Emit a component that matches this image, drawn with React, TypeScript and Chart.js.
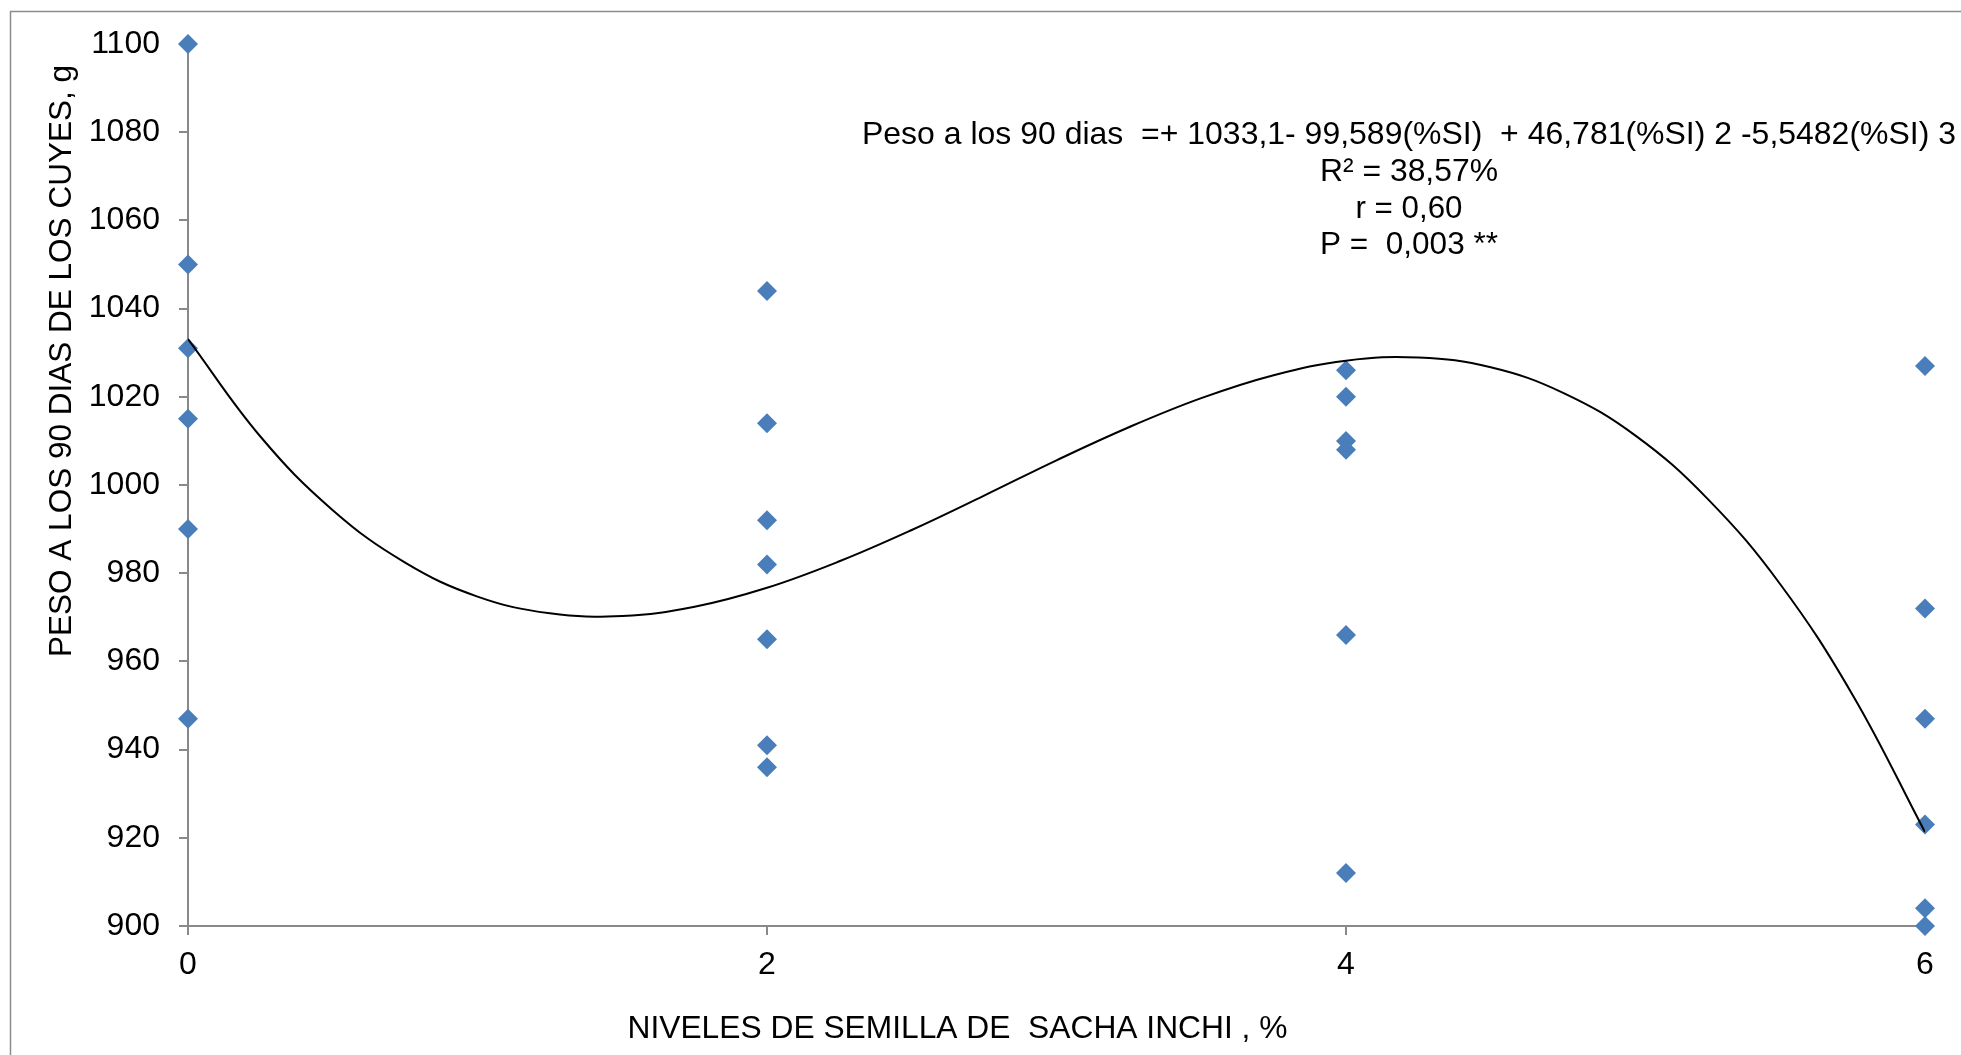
import React, { useEffect, useRef } from 'react';
import { Chart, registerables } from 'chart.js';

Chart.register(...registerables);

// ---- data ----
const LEVEL_0 = 0;
const LEVEL_2 = 2;
const LEVEL_4 = 4;
const LEVEL_6 = 6;
const PESO_0 = [1100, 1050, 1031, 1015, 990, 947];
const PESO_2 = [1044, 1014, 992, 982, 965, 941, 936];
const PESO_4 = [1026, 1020, 1010, 1008, 966, 912];
const PESO_6 = [1027, 972, 947, 923, 904, 900];

// trend curve (checked against the printed equation)
const TREND_X = [
  0, 0.25, 0.5, 0.75, 1, 1.25, 1.5, 1.75, 2, 2.25, 2.5, 2.75, 3,
  3.25, 3.5, 3.75, 4, 4.25, 4.5, 4.75, 5, 5.25, 5.5, 5.75, 6,
];
const TREND_Y = [
  1033.1, 1011.0, 994.3, 982.4, 974.7, 970.9, 970.3, 972.4, 976.7, 982.7, 989.8, 997.6, 1005.6,
  1013.1, 1019.7, 1024.9, 1028.2, 1028.9, 1026.7, 1020.9, 1011.2, 996.8, 977.5, 952.4, 921.3,
];

const Y_MIN = 900;
const Y_MAX = 1100;
const Y_STEP = 20;
const X_MIN = 0;
const X_MAX = 6;
const X_STEP = 2;

const X_TITLE = 'NIVELES DE SEMILLA DE  SACHA INCHI , %';
const Y_TITLE = 'PESO A LOS 90 DIAS DE LOS CUYES, g';
const EQUATION_LINES = [
  'Peso a los 90 dias  =+ 1033,1- 99,589(%SI)  + 46,781(%SI) 2 -5,5482(%SI) 3',
  'R² = 38,57%',
  'r = 0,60',
  'P =  0,003 **',
];

const W = 1961;
const H = 1055;
const FONT = '"Liberation Sans", Arial, Helvetica, sans-serif';

function fitText(
  ctx: CanvasRenderingContext2D,
  text: string,
  cx: number,
  baseline: number,
  width: number
) {
  const w = ctx.measureText(text).width;
  ctx.save();
  ctx.translate(cx, baseline);
  ctx.scale(width / w, 1);
  ctx.textAlign = 'center';
  ctx.textBaseline = 'alphabetic';
  ctx.fillText(text, 0, 0);
  ctx.restore();
}

const decorPlugin = {
  id: 'decor',
  afterDraw(chart: any) {
    const ctx: CanvasRenderingContext2D = chart.ctx;
    ctx.save();
    // outer frame
    ctx.strokeStyle = '#8c8c8c';
    ctx.lineWidth = 1.5;
    ctx.beginPath();
    ctx.moveTo(10.5, H);
    ctx.lineTo(10.5, 11.5);
    ctx.lineTo(W, 11.5);
    ctx.stroke();

    ctx.fillStyle = '#000';
    ctx.font = `32px ${FONT}`;
    // equation block
    fitText(ctx, EQUATION_LINES[0], 1409, 144, 1094);
    fitText(ctx, EQUATION_LINES[1], 1409, 180.5, 178);
    fitText(ctx, EQUATION_LINES[2], 1409, 217.5, 107);
    fitText(ctx, EQUATION_LINES[3], 1409, 254, 178);

    // x title
    fitText(ctx, X_TITLE, 957.5, 1037.5, 660);

    // y title (rotated)
    ctx.save();
    ctx.translate(70.5, 361);
    ctx.rotate(-Math.PI / 2);
    fitText(ctx, Y_TITLE, 0, 0, 592);
    ctx.restore();

    ctx.restore();
  },
};

export default function App() {
  const ref = useRef<HTMLCanvasElement>(null);

  useEffect(() => {
    const canvas = ref.current;
    if (!canvas) return;

    const points = [
      ...PESO_0.map((y) => ({ x: LEVEL_0, y })),
      ...PESO_2.map((y) => ({ x: LEVEL_2, y })),
      ...PESO_4.map((y) => ({ x: LEVEL_4, y })),
      ...PESO_6.map((y) => ({ x: LEVEL_6, y })),
    ];
    const trend = TREND_X.map((x, i) => ({ x, y: TREND_Y[i] }));

    const axisColor = '#898989';

    const chart = new Chart(canvas, {
      type: 'scatter',
      data: {
        datasets: [
          {
            label: 'Tendencia',
            data: trend,
            showLine: true,
            borderColor: '#000000',
            borderWidth: 2,
            pointRadius: 0,
            tension: 0.4,
            fill: false,
            order: 0,
          } as any,
          {
            label: 'Peso',
            data: points,
            pointStyle: 'rectRot',
            pointRadius: 10,
            backgroundColor: '#4a7ebb',
            borderColor: '#4a7ebb',
            borderWidth: 0,
            clip: false,
            order: 1,
          } as any,
        ],
      },
      options: {
        animation: false,
        responsive: false,
        devicePixelRatio: 1,
        events: [],
        layout: { padding: { left: 0, top: 44, right: 36, bottom: 0 } },
        plugins: {
          legend: { display: false },
          tooltip: { enabled: false },
          title: { display: false },
        },
        scales: {
          x: {
            type: 'linear',
            min: X_MIN,
            max: X_MAX,
            afterFit: (s: any) => {
              s.height = H - 926;
            },
            ticks: {
              stepSize: X_STEP,
              color: '#000',
              padding: 11,
              font: { family: FONT, size: 32 },
              callback: (v: any) => String(v),
            },
            grid: {
              display: true,
              drawOnChartArea: false,
              drawTicks: true,
              tickLength: 9,
              color: axisColor,
              lineWidth: 2,
            },
            border: { display: true, color: axisColor, width: 2 },
          },
          y: {
            type: 'linear',
            min: Y_MIN,
            max: Y_MAX,
            afterFit: (s: any) => {
              s.width = 188;
            },
            ticks: {
              stepSize: Y_STEP,
              color: '#000',
              padding: 19,
              font: { family: FONT, size: 32 },
              callback: (v: any) => String(v),
            },
            grid: {
              display: true,
              drawOnChartArea: false,
              drawTicks: true,
              tickLength: 9,
              color: axisColor,
              lineWidth: 2,
            },
            border: { display: true, color: axisColor, width: 2 },
          },
        },
      } as any,
      plugins: [decorPlugin],
    });

    return () => chart.destroy();
  }, []);

  return (
    <div
      style={{
        position: 'fixed',
        left: 0,
        top: 0,
        width: W,
        height: H,
        background: '#ffffff',
        overflow: 'hidden',
      }}
    >
      <canvas ref={ref} width={W} height={H} style={{ display: 'block', width: W, height: H }} />
    </div>
  );
}
